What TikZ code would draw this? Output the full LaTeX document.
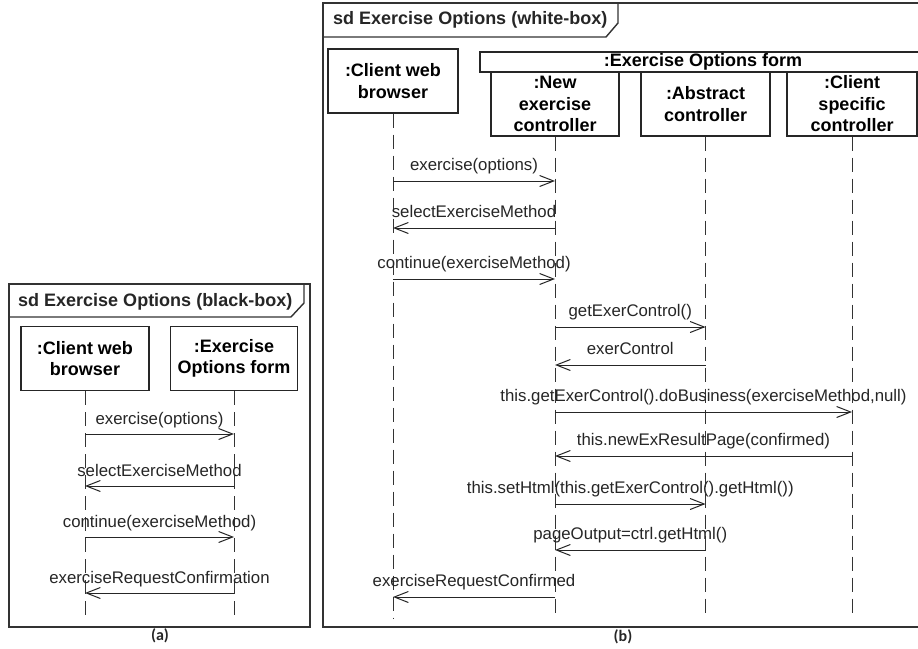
\documentclass[tikz,border=0pt]{standalone}
\usepackage{fontspec}
\setmainfont{Liberation Sans}
\newfontfamily\capfont{Carlito}
\usetikzlibrary{arrows.meta}
\begin{document}
\begin{tikzpicture}[x=1pt,y=-1pt,
  obj/.style={draw=black!85, line width=1.1pt, minimum height=64pt, inner sep=0pt, align=center,
    font=\fontsize{18}{21.5}\selectfont\bfseries},
  hdr/.style={draw=black!85, line width=1.1pt, minimum height=20pt, inner sep=0pt,
    font=\fontsize{18}{21}\selectfont\bfseries},
  life/.style={line width=1pt, draw=black!80, dash pattern=on 14pt off 7pt},
  msg/.style={line width=1pt, draw=black!85, -{Straight Barb[length=14pt,width=11pt,line width=1pt]}},
  lbl/.style={font=\fontsize{16.8}{19}\selectfont, anchor=base, inner sep=0pt, text=black!85},
  frm/.style={line width=1.4pt, draw=black!80},
  ttl/.style={font=\fontsize{18}{21}\selectfont\bfseries, anchor=west, inner sep=0pt, text=black!85},
  captext/.style={font=\capfont\fontsize{16}{18}\selectfont\bfseries, inner sep=0pt, text=black!85},
]
\clip (0,0) rectangle (918,648);
\fill[white] (0,0) rectangle (918,648);

% ---------- (a) black-box ----------
\draw[frm] (9,284) rectangle (310,627);
\draw[frm] (9,317) -- (291,317) -- (304,303) -- (304,284);
\node[ttl] (ta) at (18,302) {sd Exercise Options (black-box)};

\node[obj, minimum width=128pt] (a1) at (85,358.5) {:Client web\\browser};
\node[obj, minimum width=127pt] (a2) at (234,358.5) {:Exercise\\Options form};
\coordinate (a1e) at (85,615);
\coordinate (a2e) at (234,615);
\draw[life] (a1.south) -- (a1e);
\draw[life] (a2.south) -- (a2e);

\draw[msg] (a1 |- 0,434) -- (a2 |- 0,434) node[lbl, midway, yshift=10pt] {exercise(options)};
\draw[msg] (a2 |- 0,486) -- (a1 |- 0,486) node[lbl, midway, yshift=10pt] {selectExerciseMethod};
\draw[msg] (a1 |- 0,537) -- (a2 |- 0,537) node[lbl, midway, yshift=10pt] {continue(exerciseMethod)};
\draw[msg] (a2 |- 0,593) -- (a1 |- 0,593) node[lbl, midway, yshift=10pt] {exerciseRequestConfirmation};

\node[captext] (capa) at (160,636) {(a)};

% ---------- (b) white-box ----------
\draw[frm] (930,3) -- (323,3) -- (323,627) -- (930,627);
\draw[frm] (323,37) -- (606,37) -- (618,23) -- (618,3);
\node[ttl] (tb) at (333,20) {sd Exercise Options (white-box)};

\node[obj, minimum width=130pt] (c1) at (393,81) {:Client web\\browser};
\node[hdr, minimum width=446pt] (form) at (703,62) {:Exercise Options form};
\node[obj, minimum width=128pt] (c2) at (555,104) {:New\\exercise\\controller};
\node[obj, minimum width=129pt] (c3) at (705.5,104) {:Abstract\\controller};
\node[obj, minimum width=130pt] (c4) at (852,104) {:Client\\specific\\controller};

\coordinate (c1e) at (393,619);
\coordinate (c2e) at (555,619);
\coordinate (c3e) at (705.5,619);
\coordinate (c4e) at (852,619);
\draw[life] (c1.south) -- (c1e);
\draw[life] (c2.south) -- (c2e);
\draw[life] (c3.south) -- (c3e);
\draw[life] (c4.south) -- (c4e);

\draw[msg] (c1 |- 0,181) -- (c2 |- 0,181) node[lbl, midway, yshift=11pt] {exercise(options)};
\draw[msg] (c2 |- 0,228) -- (c1 |- 0,228) node[lbl, midway, yshift=11pt] {selectExerciseMethod};
\draw[msg] (c1 |- 0,279) -- (c2 |- 0,279) node[lbl, midway, yshift=11pt] {continue(exerciseMethod)};
\draw[msg] (c2 |- 0,327) -- (c3 |- 0,327) node[lbl, midway, yshift=11pt] {getExerControl()};
\draw[msg] (c3 |- 0,365) -- (c2 |- 0,365) node[lbl, midway, yshift=11pt] {exerControl};
\draw[msg] (c2 |- 0,412) -- (c4 |- 0,412) node[lbl, midway, yshift=11pt] {this.getExerControl().doBusiness(exerciseMethod,null)};
\draw[msg] (c4 |- 0,456) -- (c2 |- 0,456) node[lbl, midway, yshift=11pt] {this.newExResultPage(confirmed)};
\draw[msg] (c2 |- 0,504) -- (c3 |- 0,504) node[lbl, midway, yshift=11pt] {this.setHtml(this.getExerControl().getHtml())};
\draw[msg] (c3 |- 0,550) -- (c2 |- 0,550) node[lbl, midway, yshift=11pt] {pageOutput=ctrl.getHtml()};
\draw[msg] (c2 |- 0,597) -- (c1 |- 0,597) node[lbl, midway, yshift=11pt] {exerciseRequestConfirmed};

\node[captext] (capb) at (623,637) {(b)};
\end{tikzpicture}
\end{document}
